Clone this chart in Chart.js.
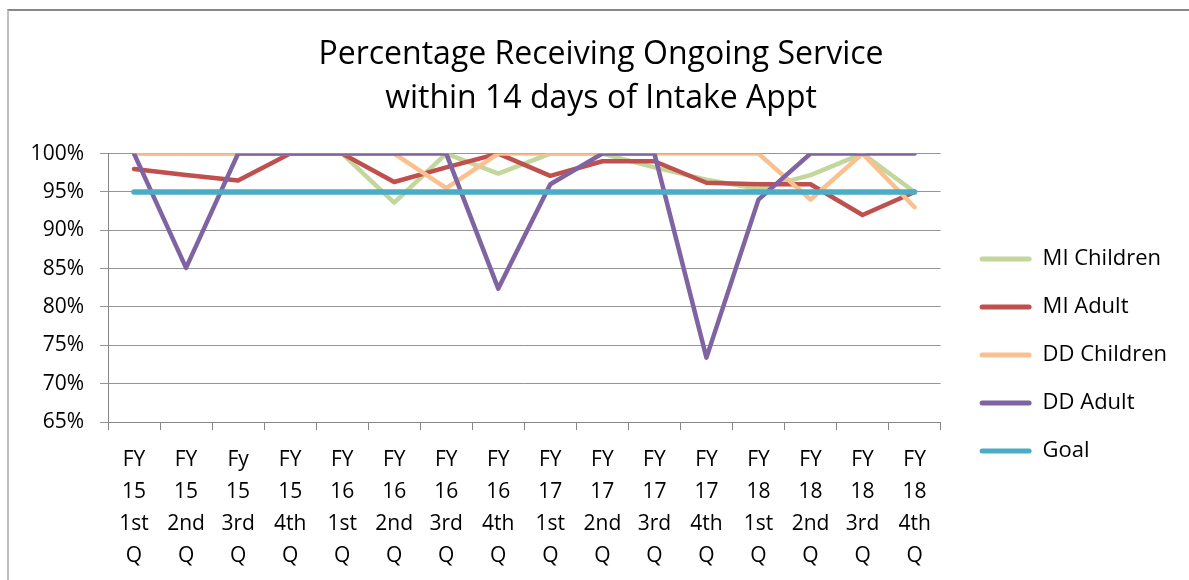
<!DOCTYPE html>
<html>
<head>
<meta charset="utf-8">
<script src="https://cdn.jsdelivr.net/npm/chart.js@4.4.1/dist/chart.umd.min.js"></script>
<style>
  body { margin: 0; background: #fff; }
  .wrap { position: relative; width: 1189px; height: 580px; }
  .frame { position: absolute; left: 7px; top: 9px; right: 0; bottom: 0;
           border-top: 2px solid #878787; border-left: 2px solid #c0c0c0; }
  canvas { position: absolute; left: 0; top: 0; }
</style>
</head>
<body>
<div class="wrap">
  <div class="frame"></div>
  <canvas id="chart" width="1189" height="580"></canvas>
</div>
<script>
// categories (quarters)
const quarters = [
  ["FY", "15", "1st", "Q"], ["FY", "15", "2nd", "Q"], ["Fy", "15", "3rd", "Q"], ["FY", "15", "4th", "Q"],
  ["FY", "16", "1st", "Q"], ["FY", "16", "2nd", "Q"], ["FY", "16", "3rd", "Q"], ["FY", "16", "4th", "Q"],
  ["FY", "17", "1st", "Q"], ["FY", "17", "2nd", "Q"], ["FY", "17", "3rd", "Q"], ["FY", "17", "4th", "Q"],
  ["FY", "18", "1st", "Q"], ["FY", "18", "2nd", "Q"], ["FY", "18", "3rd", "Q"], ["FY", "18", "4th", "Q"]
]

// series values (percent)
const miChildren = [100, 100, 100, 100, 100, 93.6, 100, 97.4, 100, 100, 98.2, 96.6, 95.4, 97.2, 100, 95]
const miAdult    = [98, 97.2, 96.5, 100, 100, 96.3, 98.2, 100, 97.1, 99, 99, 96.2, 96, 96, 92, 95]
const ddChildren = [100, 100, 100, 100, 100, 100, 95.5, 100, 100, 100, 100, 100, 100, 94, 100, 93]
const ddAdult    = [100, 85.1, 100, 100, 100, 100, 100, 82.4, 96, 100, 100, 73.4, 94, 100, 100, 100]
const goal       = [95, 95, 95, 95, 95, 95, 95, 95, 95, 95, 95, 95, 95, 95, 95, 95]

// y axis
const yTicks = [65, 70, 75, 80, 85, 90, 95, 100]

const font = "'Open Sans', Lato, sans-serif"

function serie(label, data, color, width, order) {
  return {
    label: label,
    data: data,
    borderColor: color,
    backgroundColor: color,
    borderWidth: width,
    borderCapStyle: 'round',
    borderJoinStyle: 'round',
    pointRadius: 0,
    pointHoverRadius: 0,
    tension: 0,
    fill: false,
    order: order
  }
}

// push the legend a bit away from the plot and the title a bit right, like excel does
const boxShift = {
  id: 'boxShift',
  afterLayout: function (chart) {
    chart.legend.left += 13
    chart.legend.right += 13
    chart.titleBlock.left += 15
    chart.titleBlock.right += 15
  }
}

const ctx = document.getElementById('chart')

new Chart(ctx, {
  type: 'line',
  data: {
    labels: quarters,
    datasets: [
      serie('MI Children', miChildren, '#c3d69b', 4.5, 4),
      serie('MI Adult', miAdult, '#c0504d', 4.5, 3),
      serie('DD Children', ddChildren, '#fac090', 4.5, 2),
      serie('DD Adult', ddAdult, '#8064a2', 4.5, 1),
      serie('Goal', goal, '#4bacc6', 5.5, 0)
    ]
  },
  plugins: [boxShift],
  options: {
    responsive: false,
    animation: false,
    layout: { padding: { left: 8, top: 10, right: 25, bottom: 10 } },
    plugins: {
      title: {
        display: true,
        text: ['Percentage Receiving Ongoing Service', 'within 14 days of Intake Appt'],
        color: '#000',
        font: { family: font, size: 32, weight: 'normal', lineHeight: 1.4 },
        padding: { top: 22, bottom: 32 }
      },
      legend: {
        position: 'right',
        align: 'start',
        reverse: true,
        title: { display: true, text: ' ', font: { size: 10 }, padding: { top: 200, bottom: 0 } },
        labels: {
          color: '#000',
          font: { family: font, size: 22 },
          boxWidth: 52,
          boxHeight: 5,
          padding: 26,
          useBorderRadius: true,
          borderRadius: 2.5,
          generateLabels: function (chart) {
            let items = Chart.defaults.plugins.legend.labels.generateLabels(chart)
            items.forEach(function (it) { it.lineWidth = 0 })
            return items
          }
        }
      },
      tooltip: { enabled: false }
    },
    scales: {
      x: {
        offset: true,
        afterFit: function (scale) { scale.height = 148 },
        grid: { drawOnChartArea: false, color: '#868686', tickLength: 8, offset: true },
        border: { color: '#868686' },
        ticks: { color: '#000', font: { family: font, size: 21, lineHeight: 1.524 }, padding: 14, maxRotation: 0, autoSkip: false }
      },
      y: {
        min: 65,
        max: 100,
        afterBuildTicks: function (scale) {
          scale.ticks = yTicks.map(function (v) { return { value: v } })
        },
        afterFit: function (scale) { scale.width = 100 },
        grid: { color: '#959595', tickLength: 8 },
        border: { color: '#868686' },
        ticks: {
          color: '#000',
          font: { family: font, size: 21 },
          padding: 16,
          callback: function (v) { return v + '%' }
        }
      }
    }
  }
})
</script>
</body>
</html>
